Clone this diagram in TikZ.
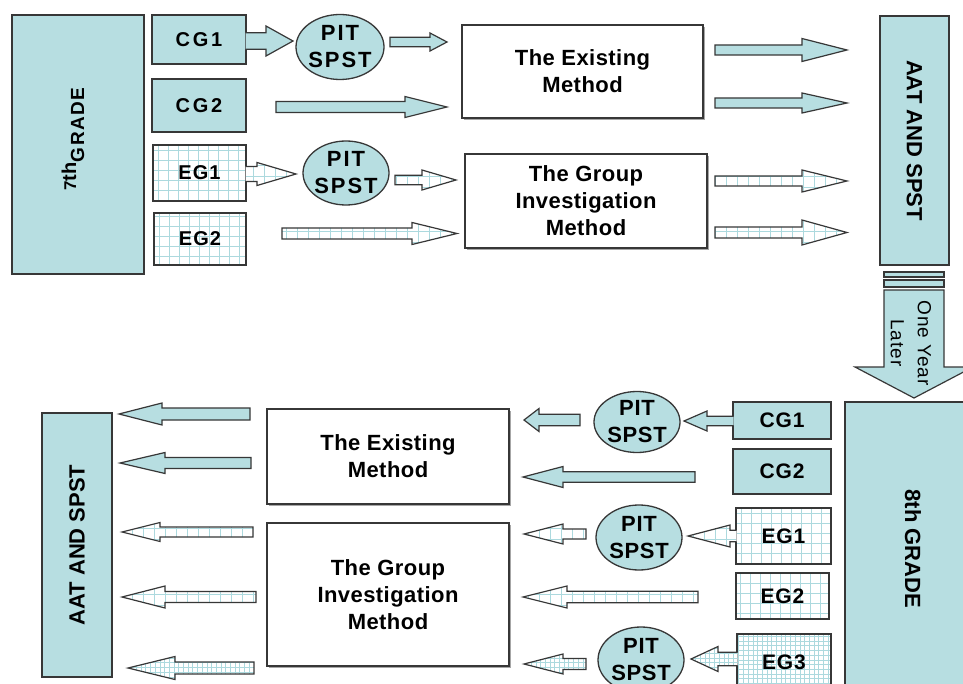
\documentclass[tikz,border=0pt]{standalone}
\usepackage{fontspec}
\setmainfont{Liberation Sans}
\usetikzlibrary{calc,shapes.geometric,shadows}
\definecolor{teal1}{RGB}{183,222,225}
\definecolor{gridc}{RGB}{172,217,222}
\definecolor{edge}{RGB}{55,55,55}
\newcommand{\myCG}{\fontsize{20}{22}\selectfont\bfseries\addfontfeatures{LetterSpace=14}}
\newcommand{\myEG}{\fontsize{20}{22}\selectfont\bfseries\addfontfeatures{LetterSpace=5}}
\newcommand{\myBG}{\fontsize{21}{24}\selectfont\bfseries\addfontfeatures{LetterSpace=4}}
\newcommand{\myPitT}{\fontsize{22}{27}\selectfont\bfseries\addfontfeatures{LetterSpace=9}}
\newcommand{\myPitB}{\fontsize{22}{27}\selectfont\bfseries\addfontfeatures{LetterSpace=3}}
\newcommand{\myMeth}{\fontsize{22}{27}\selectfont\bfseries\addfontfeatures{LetterSpace=2}}
\newcommand{\myBig}{\fontsize{22}{26}\selectfont\bfseries}
\newcommand{\myLater}{\fontsize{19}{27}\selectfont\addfontfeatures{LetterSpace=5}}
\tikzset{
  sz/.style 2 args={minimum width=#1pt, minimum height=#2pt},
  outl/.style={draw=edge, line width=1.3pt},
  tealbox/.style={outl, fill=teal1, inner sep=0pt},
  gridbox/.style={outl, fill=white, inner sep=0pt,
    path picture={\draw[gridc, line width=0.6pt] (path picture bounding box.south west) grid[step=10pt] (path picture bounding box.north east);}},
  finebox/.style={outl, fill=white, inner sep=0pt,
    path picture={\draw[gridc, line width=0.5pt] (path picture bounding box.south west) grid[step=4.7pt] (path picture bounding box.north east);}},
  method/.style={outl, fill=white, align=center, inner sep=0pt, font=\myMeth,
    drop shadow={shadow xshift=1.6pt, shadow yshift=-1.6pt, fill=black, opacity=0.35}},
  pit/.style={ellipse, outl, fill=teal1, inner sep=0pt},
  ateal/.style={fill=teal1},
  agrid/.style={fill=white,
    path picture={\draw[gridc, line width=0.6pt] (path picture bounding box.south west) grid[step=11pt] (path picture bounding box.north east);}},
  afine/.style={fill=white,
    path picture={\draw[gridc, line width=0.5pt] (path picture bounding box.south west) grid[step=4.7pt] (path picture bounding box.north east);}},
  aline/.style={draw=edge, line width=1.2pt, line join=miter},
}
% block arrow: [style]{tail}{tip}{shaft half}{head half}{head length}
\newcommand{\barrow}[6][ateal]{%
  \path[aline,#1] let \p1=(#2), \p2=(#3), \p3=($(#3)!#6pt!(#2)$) in
    (\x1,\y2+#4pt) -- (\x3,\y2+#4pt) -- (\x3,\y2+#5pt) -- (\x2,\y2)
    -- (\x3,\y2-#5pt) -- (\x3,\y2-#4pt) -- (\x1,\y2-#4pt) -- cycle;}
% block arrow joined to a box at its tail (no tail edge)
\newcommand{\barrowj}[6][ateal]{%
  \path[#1] let \p1=(#2), \p2=(#3), \p3=($(#3)!#6pt!(#2)$) in
    (\x1,\y2+#4pt) -- (\x3,\y2+#4pt) -- (\x3,\y2+#5pt) -- (\x2,\y2)
    -- (\x3,\y2-#5pt) -- (\x3,\y2-#4pt) -- (\x1,\y2-#4pt) -- cycle;
  \path[aline] let \p1=(#2), \p2=(#3), \p3=($(#3)!#6pt!(#2)$) in
    (\x1,\y2+#4pt) -- (\x3,\y2+#4pt) -- (\x3,\y2+#5pt) -- (\x2,\y2)
    -- (\x3,\y2-#5pt) -- (\x3,\y2-#4pt) -- (\x1,\y2-#4pt);}
\begin{document}
\begin{tikzpicture}[x=1pt,y=-1pt]
\clip (0,0) rectangle (963,684);
\useasboundingbox (0,0) rectangle (963,684);
\fill[white] (0,0) rectangle (963,684);

% ---------- top half ----------
\node[tealbox, sz={132}{259}] (g7) at (78,144.5) {};
\node[rotate=90, font=\bfseries, inner sep=0pt] (g7t) at (73,139)
  {{\fontsize{17}{17}\selectfont 7}{\fontsize{20}{20}\selectfont th}{\fontsize{19}{19}\selectfont\addfontfeatures{LetterSpace=8}\raisebox{-8pt}{GRADE}}};
\node[tealbox, sz={94}{49}, font=\myCG] (cg1t) at (199,39.5) {CG1};
\node[tealbox, sz={94}{53}, font=\myCG] (cg2t) at (199,105.5) {CG2};
\node[gridbox, sz={93}{56}, font=\myEG] (eg1t) at (199.5,173) {EG1};
\node[gridbox, sz={92}{52}, font=\myEG] (eg2t) at (200,239) {EG2};
\node[pit, sz={88}{65}] (p1) at (340,47) {};
\node[font=\myPitT, align=center, inner sep=0pt] (p1t) at (p1) {PIT\\SPST};
\node[pit, sz={86}{64}] (p2) at (346,173) {};
\node[font=\myPitT, align=center, inner sep=0pt] (p2t) at (p2) {PIT\\SPST};
\node[method, sz={241}{93}] (ex1) at (582.5,71.5) {The Existing\\Method};
\node[method, sz={242}{94}] (gi1) at (586,201) {The Group\\Investigation\\Method};
\node[tealbox, sz={69}{249}] (aat1) at (914.5,140.5) {};
\node[rotate=-90, font=\myBig, inner sep=0pt] (aat1t) at (aat1) {AAT AND SPST};

\coordinate (a1s) at (245.5,41);  \coordinate (a1e) at (293,41);
\coordinate (a2s) at (390,42);    \coordinate (a2e) at (447,42);
\coordinate (a3s) at (276,107);   \coordinate (a3e) at (447,107);
\coordinate (a4s) at (245.5,174); \coordinate (a4e) at (296,174);
\coordinate (a5s) at (395,180);   \coordinate (a5e) at (456,180);
\coordinate (a6s) at (282,233.5); \coordinate (a6e) at (457,233.5);
\coordinate (r1s) at (715,50);    \coordinate (r1e) at (847,50);
\coordinate (r2s) at (715,103);   \coordinate (r2e) at (847,103);
\coordinate (r3s) at (715,181);   \coordinate (r3e) at (847,181);
\coordinate (r4s) at (715,232.5); \coordinate (r4e) at (847,232.5);

\barrowj[ateal]{a1s}{a1e}{8.3}{15}{27}
\barrow[ateal]{a2s}{a2e}{4.7}{9}{17}
\barrow[ateal]{a3s}{a3e}{5.5}{10.5}{42}
\barrowj[agrid]{a4s}{a4e}{7.5}{11.5}{39}
\barrow[agrid]{a5s}{a5e}{4.7}{10}{34}
\barrow[agrid]{a6s}{a6e}{5.5}{11}{45}
\barrow[ateal]{r1s}{r1e}{5}{11.5}{45}
\barrow[ateal]{r2s}{r2e}{5}{10}{45}
\barrow[agrid]{r3s}{r3e}{5}{11}{45}
\barrow[agrid]{r4s}{r4e}{5.5}{12.5}{45}

% ---------- one year later ----------
\draw[aline, fill=teal1] (884,272) rectangle (944,277);
\draw[aline, fill=teal1] (884,280) rectangle (944,287);
\draw[aline, fill=teal1] (884,290) -- (944,290) -- (944,367) -- (973,367)
  -- (914,398) -- (855,367) -- (884,367) -- cycle;
\node[rotate=-90, font=\myLater, align=center, inner sep=0pt] (later) at (911,343) {One Year\\Later};

% ---------- bottom half ----------
\node[tealbox, sz={70}{264}] (aat2) at (77,545) {};
\node[rotate=90, font=\myBig, inner sep=0pt] (aat2t) at (aat2) {AAT AND SPST};
\node[method, sz={242}{95}] (ex2) at (388,456.5) {The Existing\\Method};
\node[method, sz={242}{143}] (gi2) at (388,594.5) {The Group\\Investigation\\Method};
\node[tealbox, sz={98}{37}, font=\myBG] (cg1b) at (782,420.5) {CG1};
\node[tealbox, sz={98}{45}, font=\myBG] (cg2b) at (782,471.5) {CG2};
\node[gridbox, sz={95}{56}, font=\myBG] (eg1b) at (783.5,536) {EG1};
\node[gridbox, sz={93}{46}, font=\myBG] (eg2b) at (782.5,596) {EG2};
\node[finebox, sz={94}{56}, font=\myBG] (eg3b) at (784,662) {EG3};
\node[tealbox, sz={136}{294}] (g8) at (913,549) {};
\node[rotate=-90, font=\myBig, inner sep=0pt] (g8t) at (g8) {8th GRADE};
\node[pit, sz={86}{61}] (p3) at (637,422) {};
\node[font=\myPitB, align=center, inner sep=0pt] (p3t) at (p3) {PIT\\SPST};
\node[pit, sz={86}{65}] (p4) at (639,537.5) {};
\node[font=\myPitB, align=center, inner sep=0pt] (p4t) at (p4) {PIT\\SPST};
\node[pit, sz={86}{66}] (p5) at (641,660) {};
\node[font=\myPitB, align=center, inner sep=0pt] (p5t) at (p5) {PIT\\SPST};

\coordinate (b1s) at (733.5,421); \coordinate (b1e) at (684,421);
\coordinate (b2s) at (580,420);   \coordinate (b2e) at (524,420);
\coordinate (b3s) at (695,477);   \coordinate (b3e) at (523,477);
\coordinate (b4s) at (736.5,536); \coordinate (b4e) at (688,536);
\coordinate (b5s) at (586,534);   \coordinate (b5e) at (524,534);
\coordinate (b6s) at (698,597);   \coordinate (b6e) at (523,597);
\coordinate (b7s) at (737.5,659); \coordinate (b7e) at (691,659);
\coordinate (b8s) at (586,664);   \coordinate (b8e) at (524,664);
\coordinate (l1s) at (250,414);   \coordinate (l1e) at (119,414);
\coordinate (l2s) at (251,463);   \coordinate (l2e) at (120,463);
\coordinate (l3s) at (253,532);   \coordinate (l3e) at (122,532);
\coordinate (l4s) at (256,597);   \coordinate (l4e) at (122,597);
\coordinate (l5s) at (254,668);   \coordinate (l5e) at (128,668);

\barrowj[ateal]{b1s}{b1e}{4.7}{10}{23}
\barrow[ateal]{b2s}{b2e}{5.7}{11.5}{15}
\barrow[ateal]{b3s}{b3e}{5.3}{10.5}{40}
\barrowj[agrid]{b4s}{b4e}{5.8}{11}{42}
\barrow[agrid]{b5s}{b5e}{5}{10}{39}
\barrow[agrid]{b6s}{b6e}{5.7}{11}{44}
\barrowj[afine]{b7s}{b7e}{6.7}{12.5}{27}
\barrow[afine]{b8s}{b8e}{5.5}{10}{39}
\barrow[ateal]{l1s}{l1e}{6}{11}{43}
\barrow[ateal]{l2s}{l2e}{5.5}{10.5}{45}
\barrow[agrid]{l3s}{l3e}{5}{9.5}{38}
\barrow[agrid]{l4s}{l4e}{5.5}{11}{43}
\barrow[afine]{l5s}{l5e}{6}{11.5}{47}
\end{tikzpicture}
\end{document}
